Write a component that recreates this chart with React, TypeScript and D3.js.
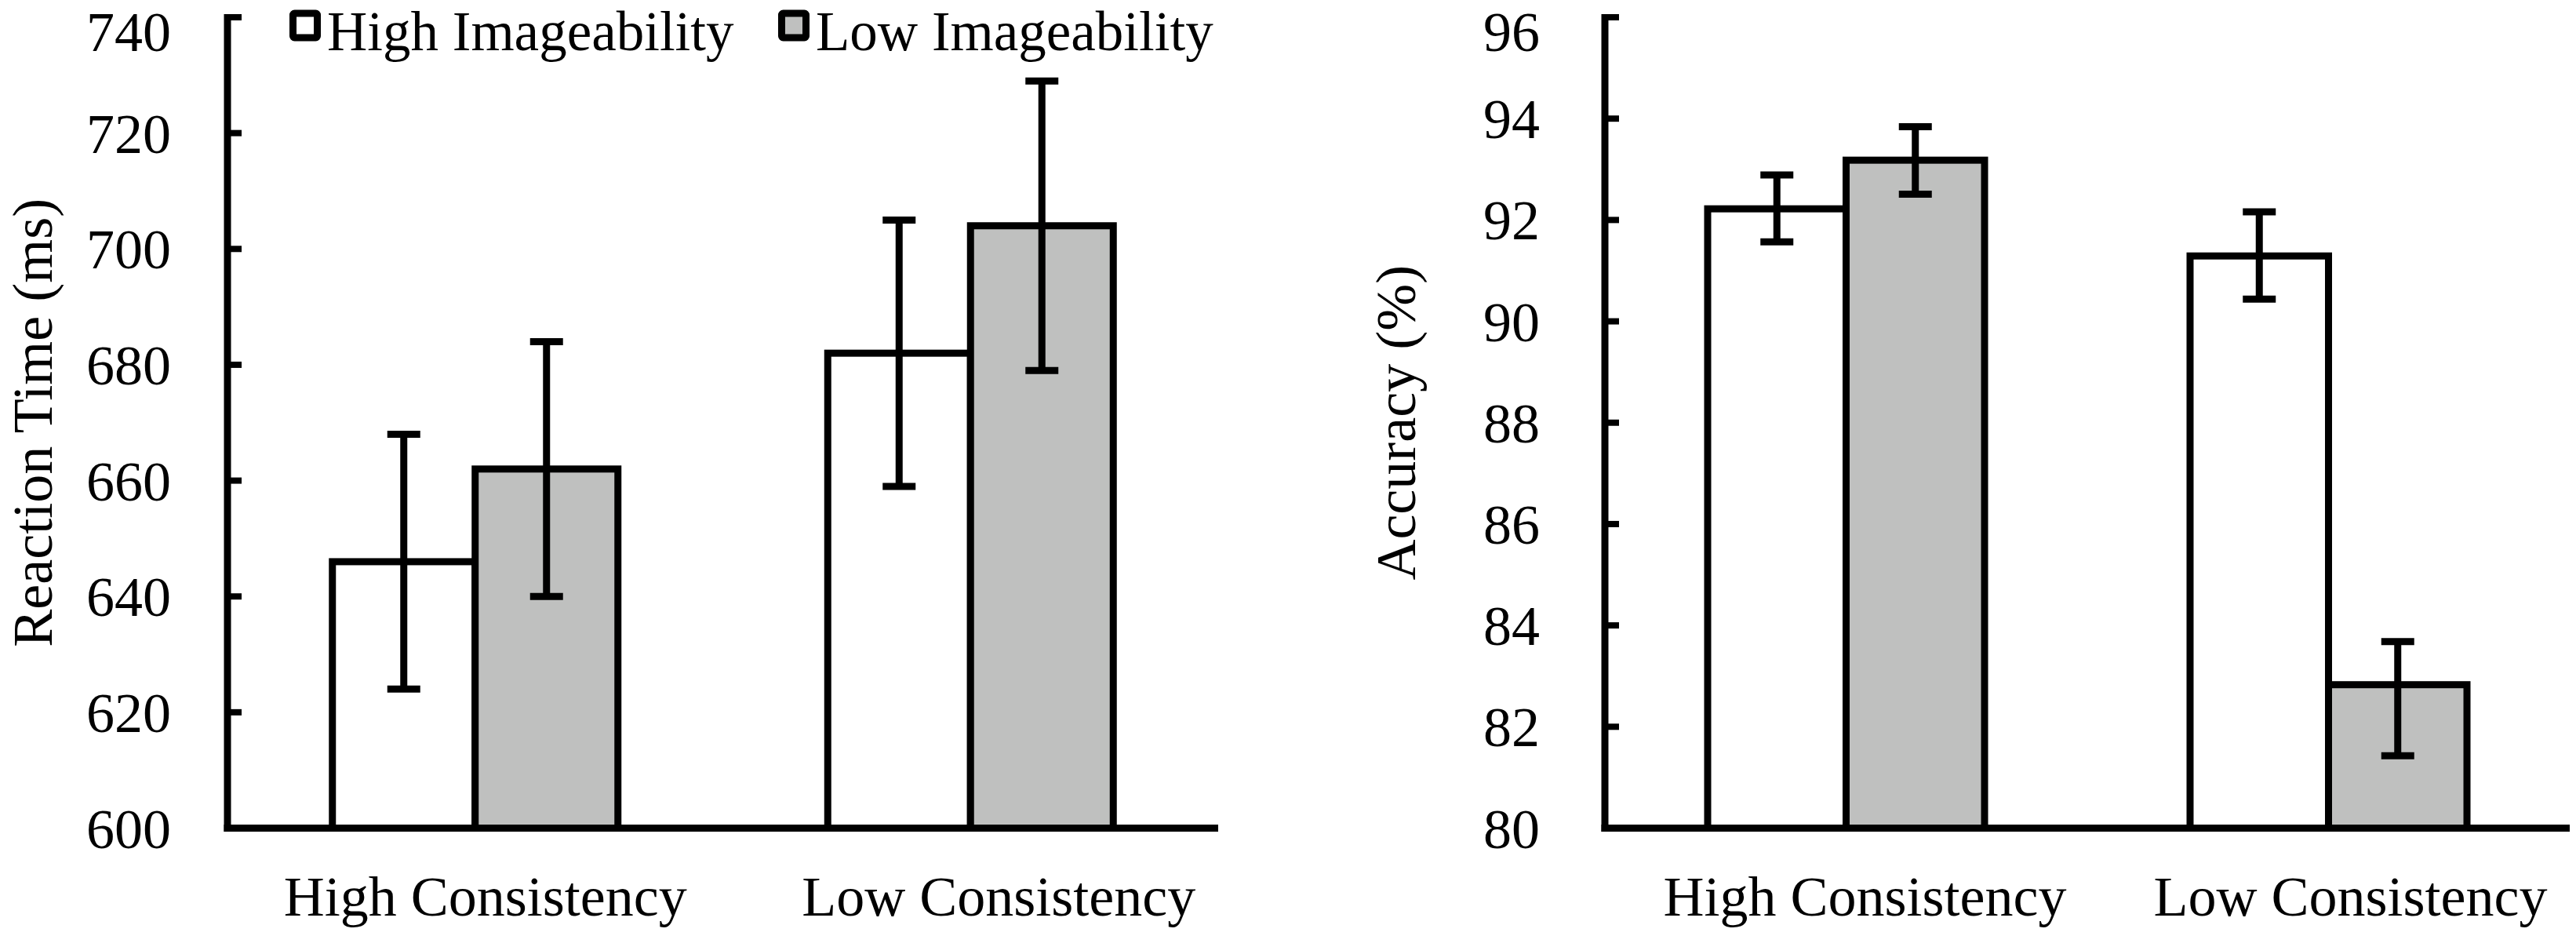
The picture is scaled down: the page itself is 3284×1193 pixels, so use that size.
import React from "react";
import * as d3 from "d3";

// ---------- data ----------
const categories = ["High Consistency", "Low Consistency"];
const seriesNames = ["High Imageability", "Low Imageability"];

// Reaction time (ms)
const rtHighImg = [646, 682];
const rtLowImg = [662, 704];
const rtHighImgLo = [624, 659];
const rtHighImgHi = [668, 705];
const rtLowImgLo = [640, 679];
const rtLowImgHi = [684, 729];
const rtTicks = [600, 620, 640, 660, 680, 700, 720, 740];

// Accuracy (%)
const accHighImg = [92.22, 91.29];
const accLowImg = [93.18, 82.83];
const accHighImgLo = [91.57, 90.44];
const accHighImgHi = [92.89, 92.16];
const accLowImgLo = [92.51, 81.43];
const accLowImgHi = [93.84, 83.68];
const accTicks = [80, 82, 84, 86, 88, 90, 92, 94, 96];

// ---------- style ----------
const FONT = "'Liberation Serif', 'Times New Roman', serif";
const FS = 72;
const STROKE = 9;
const GREY = "#bfc0bf";
const fills = ["#ffffff", GREY];

interface PanelProps {
  x0: number;
  x1: number;
  yTop: number;
  yBot: number;
  domain: [number, number];
  ticks: number[];
  values: number[][];
  lo: number[][];
  hi: number[][];
  title: string;
  titleX: number;
  labelGap: number;
  labelDx: number[];
  padding: number;
}

function Panel(p: PanelProps) {
  const y = d3.scaleLinear().domain(p.domain).range([p.yBot, p.yTop]);
  const xb = d3
    .scaleBand<string>()
    .domain(categories)
    .range([p.x0, p.x1])
    .paddingInner(p.padding)
    .paddingOuter(p.padding / 2);
  const xs = d3
    .scaleBand<string>()
    .domain(seriesNames)
    .range([0, xb.bandwidth()])
    .padding(0);
  const capHalf = 21;
  const yMid = (p.yTop + p.yBot) / 2;

  return (
    <g>
      {/* bars */}
      {categories.map((c, ci) =>
        seriesNames.map((s, si) => {
          const bx = (xb(c) as number) + (xs(s) as number);
          const v = p.values[si][ci];
          return (
            <rect
              key={c + s}
              x={bx}
              y={y(v)}
              width={xs.bandwidth()}
              height={p.yBot - y(v)}
              fill={fills[si]}
              stroke="#000"
              strokeWidth={STROKE}
            />
          );
        })
      )}
      {/* error bars */}
      {categories.map((c, ci) =>
        seriesNames.map((s, si) => {
          const cx = (xb(c) as number) + (xs(s) as number) + xs.bandwidth() / 2;
          const ylo = y(p.lo[si][ci]);
          const yhi = y(p.hi[si][ci]);
          return (
            <g key={"e" + c + s} stroke="#000" strokeWidth={STROKE}>
              <line x1={cx} x2={cx} y1={yhi} y2={ylo} />
              <line x1={cx - capHalf} x2={cx + capHalf} y1={yhi} y2={yhi} />
              <line x1={cx - capHalf} x2={cx + capHalf} y1={ylo} y2={ylo} />
            </g>
          );
        })
      )}
      {/* y axis */}
      <line
        x1={p.x0}
        x2={p.x0}
        y1={y(p.domain[1]) - 4}
        y2={p.yBot + 4.5}
        stroke="#000"
        strokeWidth={STROKE}
      />
      {p.ticks.map((t) => (
        <g key={"t" + t}>
          <line
            x1={p.x0}
            x2={p.x0 + 18}
            y1={y(t)}
            y2={y(t)}
            stroke="#000"
            strokeWidth={8}
          />
          <text
            x={p.x0 - p.labelGap}
            y={Math.max(y(t) + 25, 65)}
            textAnchor="end"
            fontFamily={FONT}
            fontSize={FS}
            fill="#000"
          >
            {t}
          </text>
        </g>
      ))}
      {/* x axis */}
      <line
        x1={p.x0 - 4.5}
        x2={p.x1}
        y1={p.yBot}
        y2={p.yBot}
        stroke="#000"
        strokeWidth={STROKE}
      />
      {categories.map((c, ci) => (
        <text
          key={"c" + c}
          x={(xb(c) as number) + xb.bandwidth() / 2 + p.labelDx[ci]}
          y={1167}
          textAnchor="middle"
          fontFamily={FONT}
          fontSize={FS}
          fill="#000"
        >
          {c}
        </text>
      ))}
      {/* y title */}
      <text
        transform={`translate(${p.titleX},${yMid}) rotate(-90)`}
        textAnchor="middle"
        fontFamily={FONT}
        fontSize={FS}
        fill="#000"
      >
        {p.title}
      </text>
    </g>
  );
}

export default function App() {
  return (
    <svg
      width={3284}
      height={1193}
      viewBox="0 0 3284 1193"
      style={{ position: "fixed", left: 0, top: 0, display: "block", background: "#fff" }}
    >
      <rect x={0} y={0} width={3284} height={1193} fill="#fff" />
      <Panel
        x0={290}
        x1={1553}
        yTop={22}
        yBot={1055.5}
        domain={[600, 740]}
        ticks={rtTicks}
        values={[rtHighImg, rtLowImg]}
        lo={[rtHighImgLo, rtLowImgLo]}
        hi={[rtHighImgHi, rtLowImgHi]}
        title="Reaction Time (ms)"
        titleX={66}
        labelGap={72}
        labelDx={[13, 36]}
        padding={0.4236}
      />
      <Panel
        x0={2046}
        x1={3276}
        yTop={22}
        yBot={1055.5}
        domain={[80, 96]}
        ticks={accTicks}
        values={[accHighImg, accLowImg]}
        lo={[accHighImgLo, accLowImgLo]}
        hi={[accHighImgHi, accLowImgHi]}
        title="Accuracy (%)"
        titleX={1804}
        labelGap={83}
        labelDx={[24, 28]}
        padding={0.426}
      />
      {/* legend */}
      {seriesNames.map((s, i) => {
        const lx = [373.5, 996.5][i];
        return (
          <g key={"l" + s}>
            <rect
              x={lx}
              y={17}
              width={31}
              height={31}
              rx={2}
              fill={fills[i]}
              stroke="#000"
              strokeWidth={9}
            />
            <text
              x={lx + 43.5}
              y={64}
              fontFamily={FONT}
              fontSize={71}
              fill="#000"
            >
              {s}
            </text>
          </g>
        );
      })}
    </svg>
  );
}
